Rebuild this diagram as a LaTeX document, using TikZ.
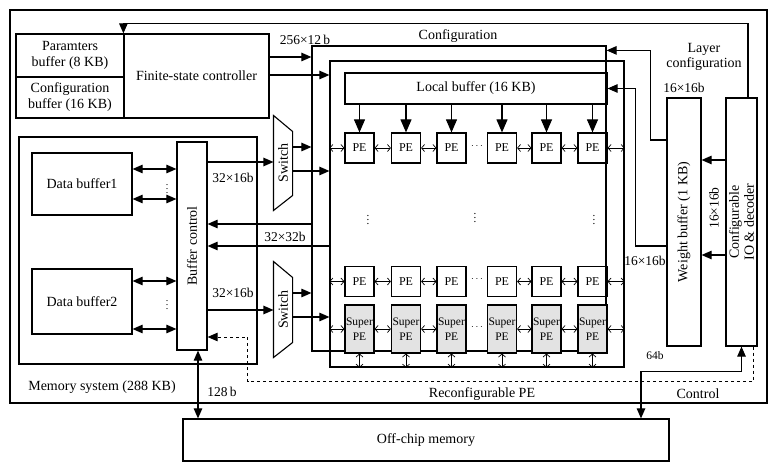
\documentclass[tikz,border=0pt]{standalone}
\usepackage{fontspec}
\setmainfont{Liberation Serif}
\usetikzlibrary{positioning,calc,arrows.meta}

\begin{document}
\begin{tikzpicture}[x=1pt, y=-1pt, >={Triangle[length=10pt,width=8.5pt]}, line width=1.1pt, box/.style = {draw, line width=1.2pt, inner sep=1pt, align=center, font=\fontsize{14}{16}\selectfont}, pe/.style = {box, minimum width=29pt, minimum height=30pt, font=\fontsize{12}{12}\selectfont}, superpe/.style = {pe, fill=gray!22, minimum height=48pt, font=\fontsize{11.5}{15}\selectfont}, lbl/.style = {inner sep=0pt, align=center, font=\fontsize{14}{15}\selectfont}, num/.style = {inner sep=0pt, font=\fontsize{13.5}{15}\selectfont}, link/.style = {{Straight Barb[length=3pt,width=7pt]}-{Straight Barb[length=3pt,width=7pt]}, line width=0.7pt}, down/.style = {->, >={Triangle[length=13pt,width=11pt]}}]

\useasboundingbox (0,0) rectangle (782,470);
\node[box, minimum width=757pt, minimum height=393pt] (chip) at (388.5,206.5) {};

% controller and its buffers
\node[box, minimum width=108pt, minimum height=43pt] (parbuf) at (70,55.5) {Paramters\\buffer (8 KB)};
\node[box, minimum width=108pt, minimum height=41pt] (cfgbuf) at (70,97.5) {Configuration\\buffer (16 KB)};
\node[box, minimum width=145pt, minimum height=84pt] (fsc) at (196.5,76) {Finite-state controller};

% memory system
\node[box, minimum width=238pt, minimum height=227pt] (memsys) at (138,250.5) {};
\node[lbl] (memlbl) at (102,387) {Memory system (288 KB)};
\node[box, minimum width=100pt, minimum height=62pt] (dbuf1) at (82,184) {Data buffer1};
\node[box, minimum width=100pt, minimum height=65pt] (dbuf2) at (82,301.5) {Data buffer2};
\node[box, minimum width=30pt, minimum height=208pt, label={[lbl, rotate=90]center:Buffer control}] (bufctl) at (192,246) {};
\node[lbl, font=\fontsize{10}{10}\selectfont] (vd1) at (167,186) {$\vdots$};
\node[lbl, font=\fontsize{10}{10}\selectfont] (vd2) at (167,302) {$\vdots$};

% switches
\node[minimum width=18pt, minimum height=94pt, inner sep=0pt, label={[lbl, rotate=90]center:Switch}] (sw1) at (283,163) {};
\node[minimum width=18pt, minimum height=95pt, inner sep=0pt, label={[lbl, rotate=90]center:Switch}] (sw2) at (283,309.5) {};
\draw (sw1.north west) -- ([yshift=-16pt]sw1.north east) -- ([yshift=15pt]sw1.south east) -- (sw1.south west) -- cycle;
\draw (sw2.north west) -- ([yshift=-16pt]sw2.north east) -- ([yshift=15pt]sw2.south east) -- (sw2.south west) -- cycle;

% PE array
\node[box, minimum width=294pt, minimum height=305pt] (cfgbox) at (459,198.5) {};
\node[lbl] (cfglbl) at (458,36) {Configuration};
\node[box, minimum width=294pt, minimum height=306pt] (rpebox) at (477,214) {};
\node[lbl] (rpelbl) at (482,394) {Reconfigurable PE};
\node[box, minimum width=262pt, minimum height=31pt] (locbuf) at (476,88.5) {Local buffer (16 KB)};

\node[pe] (p11) at (359.5,148) {PE};
\node[pe] (p12) at (406,148) {PE};
\node[pe] (p13) at (451.5,148) {PE};
\node[pe] (p14) at (502,148) {PE};
\node[pe] (p15) at (546.5,148) {PE};
\node[pe] (p16) at (592.5,148) {PE};

\node[pe] (p21) at (359.5,281.5) {PE};
\node[pe] (p22) at (406,281.5) {PE};
\node[pe] (p23) at (451.5,281.5) {PE};
\node[pe] (p24) at (502,281.5) {PE};
\node[pe] (p25) at (546.5,281.5) {PE};
\node[pe] (p26) at (592.5,281.5) {PE};

\node[superpe] (s1) at (359.5,329) {Super\\PE};
\node[superpe] (s2) at (406,329) {Super\\PE};
\node[superpe] (s3) at (451.5,329) {Super\\PE};
\node[superpe] (s4) at (502,329) {Super\\PE};
\node[superpe] (s5) at (546.5,329) {Super\\PE};
\node[superpe] (s6) at (592.5,329) {Super\\PE};

\node[lbl, font=\fontsize{10}{10}\selectfont] (hd1) at (477,146) {$\cdots$};
\node[lbl, font=\fontsize{10}{10}\selectfont] (hd2) at (477,279) {$\cdots$};
\node[lbl, font=\fontsize{10}{10}\selectfont] (hd3) at (477,327) {$\cdots$};
\node[lbl, font=\fontsize{11}{11}\selectfont] (vd3) at (368,217) {$\vdots$};
\node[lbl, font=\fontsize{11}{11}\selectfont] (vd4) at (475,215) {$\vdots$};
\node[lbl, font=\fontsize{11}{11}\selectfont] (vd5) at (594,217) {$\vdots$};

% weight buffer, IO, off-chip
\node[box, minimum width=34pt, minimum height=248pt, label={[lbl, rotate=90]center:Weight buffer (1 KB)}] (wbuf) at (684,222) {};
\node[box, minimum width=31pt, minimum height=248pt, label={[lbl, rotate=90]center:{Configurable\\IO \& decoder}}] (io) at (741.5,222) {};
\node[box, minimum width=486pt, minimum height=42pt] (offchip) at (426,440) {Off-chip memory};

% labels
\node[num] (l256) at (305,40) {256×12\,b};
\node[lbl] (lcfg) at (704,57) {Layer\\configuration};
\node[num] (l16a) at (684,88) {16×16b};
\node[num] (l16b) at (645,261) {16×16b};
\node[num, rotate=90] (l16c) at (714,208) {16×16b};
\node[num] (l32a) at (233,178) {32×16b};
\node[num] (l32b) at (233,293) {32×16b};
\node[num] (l32c) at (285,237) {32×32b};
\node[num] (l128) at (222,392) {128\,b};
\node[num, font=\fontsize{11.5}{12}\selectfont] (l64) at (655,356) {64b};
\node[lbl] (lctl) at (698,394) {Control};

% connectors
\draw[->] ([yshift=19pt]fsc.east) coordinate (f1) -- (f1 -| cfgbox.west);
\draw[->] ([yshift=1pt]fsc.east) coordinate (f2) -- (f2 -| rpebox.west);
\draw[->] ([xshift=6.5pt]io.north) |- ([yshift=10pt]fsc.north west) -- (fsc.north west);
\draw[->] ([yshift=82pt]wbuf.west) -| ([xshift=44pt,yshift=-5pt]cfgbox.north east) -- ([yshift=-5pt]cfgbox.north east);
\draw[->] ([yshift=-24pt]wbuf.west) -| ([xshift=28pt]locbuf.east) -- (locbuf.east);
\draw[->] ([yshift=62pt]io.west) coordinate (i1) -- (i1 -| wbuf.east);
\draw[->] ([yshift=-33pt]io.west) coordinate (i2) -- (i2 -| wbuf.east);
\draw[<->] (io.south) -- ++(0,25) -| ([xshift=215pt]offchip.north);
\draw[->, dashed, line width=0.9pt] ([xshift=11.5pt]io.south) -- ++(0,35) -| ([xshift=40pt,yshift=-91pt]bufctl.east) -- ([yshift=-91pt]bufctl.east);
\draw[<->] ([xshift=6pt]bufctl.south) coordinate (b0) -- (b0 |- offchip.north);

\draw[<->] ([yshift=15pt]dbuf1.east) coordinate (d1) -- (d1 -| bufctl.west);
\draw[<->] ([yshift=-15pt]dbuf1.east) coordinate (d2) -- (d2 -| bufctl.west);
\draw[<->] ([yshift=20.5pt]dbuf2.east) coordinate (d3) -- (d3 -| bufctl.west);
\draw[<->] ([yshift=-27.5pt]dbuf2.east) coordinate (d4) -- (d4 -| bufctl.west);

\draw[->] ([yshift=84pt]bufctl.east) coordinate (b1) -- (b1 -| sw1.west);
\draw[->] ([yshift=-64pt]bufctl.east) coordinate (b2) -- (b2 -| sw2.west);
\draw[->] ([yshift=16pt]sw1.east) coordinate (w1) -- (w1 -| cfgbox.west);
\draw[->] ([yshift=-8pt]sw1.east) coordinate (w2) -- (w2 -| rpebox.west);
\draw[->] ([yshift=16.5pt]sw2.east) coordinate (w3) -- (w3 -| cfgbox.west);
\draw[->] ([yshift=-7.5pt]sw2.east) coordinate (w4) -- (w4 -| rpebox.west);
\draw[->] ([yshift=-25.5pt]cfgbox.west) coordinate (c1) -- (c1 -| bufctl.east);
\draw[->] ([yshift=-32pt]rpebox.west) coordinate (c2) -- (c2 -| bufctl.east);

\path
 (locbuf.south -| p11.north) edge[down] (p11.north)
 (locbuf.south -| p12.north) edge[down] (p12.north)
 (locbuf.south -| p13.north) edge[down] (p13.north)
 (locbuf.south -| p14.north) edge[down] (p14.north)
 (locbuf.south -| p15.north) edge[down] (p15.north)
 (locbuf.south -| p16.north) edge[down] (p16.north);

\path
 (rpebox.west |- p11.west) edge[link] (p11.west)
 (p11.east) edge[link] (p12.west)
 (p12.east) edge[link] (p13.west)
 (p14.east) edge[link] (p15.west)
 (p15.east) edge[link] (p16.west)
 (p16.east) edge[link] (rpebox.east |- p16.east)
 (rpebox.west |- p21.west) edge[link] (p21.west)
 (p21.east) edge[link] (p22.west)
 (p22.east) edge[link] (p23.west)
 (p24.east) edge[link] (p25.west)
 (p25.east) edge[link] (p26.west)
 (p26.east) edge[link] (rpebox.east |- p26.east)
 (rpebox.west |- s1.west) edge[link] (s1.west)
 (s1.east) edge[link] (s2.west)
 (s2.east) edge[link] (s3.west)
 (s4.east) edge[link] (s5.west)
 (s5.east) edge[link] (s6.west)
 (s6.east) edge[link] (rpebox.east |- s6.east);

\path
 (s1.south) edge[link] (s1.south |- rpebox.south)
 (s2.south) edge[link] (s2.south |- rpebox.south)
 (s3.south) edge[link] (s3.south |- rpebox.south)
 (s4.south) edge[link] (s4.south |- rpebox.south)
 (s5.south) edge[link] (s5.south |- rpebox.south)
 (s6.south) edge[link] (s6.south |- rpebox.south);
\end{tikzpicture}
\end{document}
